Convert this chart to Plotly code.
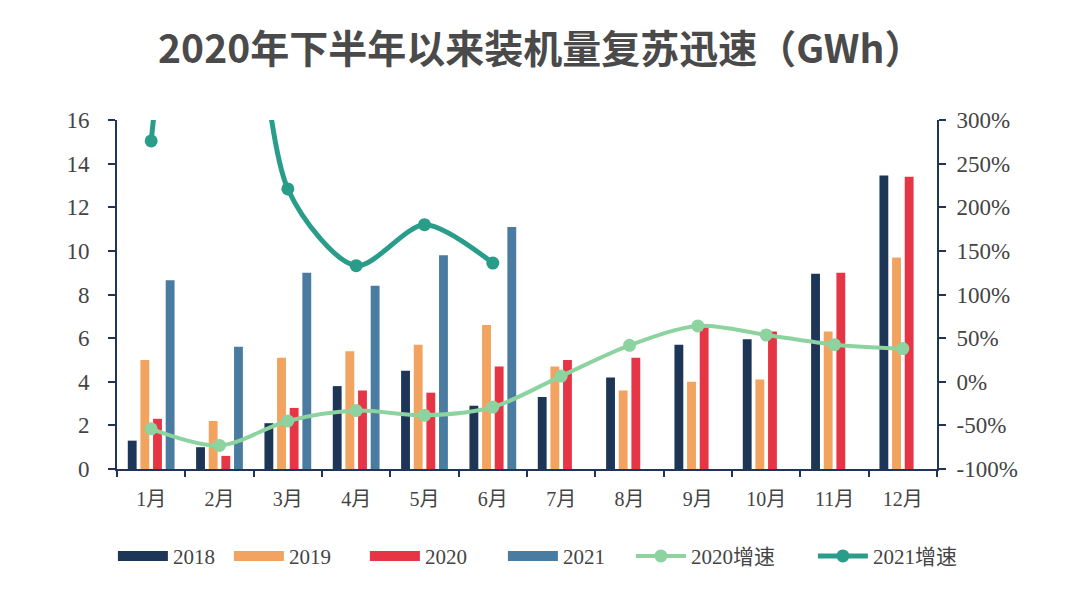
import plotly.graph_objects as go

months = ["1月", "2月", "3月", "4月", "5月", "6月", "7月", "8月", "9月", "10月", "11月", "12月"]
v2018 = [1.3, 1.0, 2.1, 3.8, 4.5, 2.9, 3.3, 4.2, 5.7, 5.95, 8.95, 13.45]
v2019 = [5.0, 2.2, 5.1, 5.4, 5.7, 6.6, 4.7, 3.6, 4.0, 4.1, 6.3, 9.7]
v2020 = [2.3, 0.6, 2.8, 3.6, 3.5, 4.7, 5.0, 5.1, 6.5, 6.3, 9.0, 13.4]
v2021 = [8.65, 5.6, 9.0, 8.4, 9.8, 11.1, None, None, None, None, None, None]
g2020 = [-54, -73, -45, -33, -38.5, -29, 6.5, 41.7, 64, 53.7, 42.5, 38]
g2021 = [276, 833, 221, 133, 180, 136, None, None, None, None, None, None]

left_ticks = [0, 2, 4, 6, 8, 10, 12, 14, 16]
right_ticks = [-100, -50, 0, 50, 100, 150, 200, 250, 300]
right_labels = [f"{v}%" for v in right_ticks]

c2018 = "#1d3557"
c2019 = "#f2a35f"
c2020 = "#e63646"
c2021 = "#4a7ba1"
cg20 = "#8dd3a0"
cg21 = "#2a9d8a"
axis_c = "#1f3457"
txt_c = "#444444"
serif = "Liberation Serif, Times New Roman, Noto Sans CJK SC, serif"

fig = go.Figure()
bar_series = [("2018", v2018, c2018, 51), ("2019", v2019, c2019, 71),
              ("2020", v2020, c2020, 73), ("2021", v2021, c2021, 63)]
for name, vals, col, lw in bar_series:
    fig.add_trace(go.Bar(x=months, y=vals, name=name, marker_color=col,
                         marker_line_width=0, yaxis="y", showlegend=False, legendgroup=name))
# legend swatches for bars (wide rectangles)
for name, vals, col, lw in bar_series:
    fig.add_trace(go.Scatter(x=[None], y=[None], name=name, mode="lines",
                             line=dict(color=col, width=12), legendgroup=name, legendwidth=lw))

fig.add_trace(go.Scatter(x=months, y=g2020, name="2020增速", yaxis="y2", legendwidth=117,
                         mode="lines+markers", line=dict(color=cg20, width=4, shape="spline", smoothing=0.9),
                         marker=dict(size=13, color=cg20)))
fig.add_trace(go.Scatter(x=months, y=g2021, name="2021增速", yaxis="y2", legendwidth=100,
                         mode="lines+markers", line=dict(color=cg21, width=5, shape="spline", smoothing=0.8),
                         marker=dict(size=13, color=cg21)))

fig.update_layout(
    width=1072, height=596,
    margin=dict(l=109, r=143, t=112, b=135),
    paper_bgcolor="white", plot_bgcolor="white",
    title=dict(text="<b>2020年下半年以来装机量复苏迅速（GWh）</b>",
               font=dict(family="Noto Sans CJK SC, sans-serif", size=39, color="#4a4a4a"),
               x=0.497, xanchor="center", y=0.93, yanchor="middle"),
    barmode="group", bargap=0.26, bargroupgap=0.3,
    xaxis=dict(type="category", range=[-0.5, len(months) - 0.5], showline=True, linecolor=axis_c, linewidth=2,
               ticks="outside", tickson="boundaries", ticklen=6, tickwidth=2, tickcolor=axis_c,
               tickfont=dict(family=serif, size=20, color=txt_c), ticklabelstandoff=11,
               showgrid=False, zeroline=False),
    yaxis=dict(range=[0, 16], tickvals=left_ticks, showline=True, linecolor=axis_c, linewidth=2,
               ticks="outside", ticklen=7, tickwidth=2, tickcolor=axis_c,
               tickfont=dict(family=serif, size=23, color=txt_c), ticklabelstandoff=14,
               showgrid=False, zeroline=False),
    yaxis2=dict(range=[-100, 300], tickvals=right_ticks, ticktext=right_labels,
                overlaying="y", side="right",
                showline=True, linecolor=axis_c, linewidth=2,
                ticks="outside", ticklen=7, tickwidth=2, tickcolor=axis_c,
                tickfont=dict(family=serif, size=23, color=txt_c), ticklabelstandoff=6,
                showgrid=False, zeroline=False),
    legend=dict(orientation="h", x=-0.005, xanchor="left", y=-0.25, yanchor="middle",
                font=dict(family=serif, size=21, color=txt_c), itemwidth=50,
                traceorder="normal", bgcolor="rgba(0,0,0,0)",
                groupclick="toggleitem"),
    showlegend=True,
)

fig.write_html("out.html")
